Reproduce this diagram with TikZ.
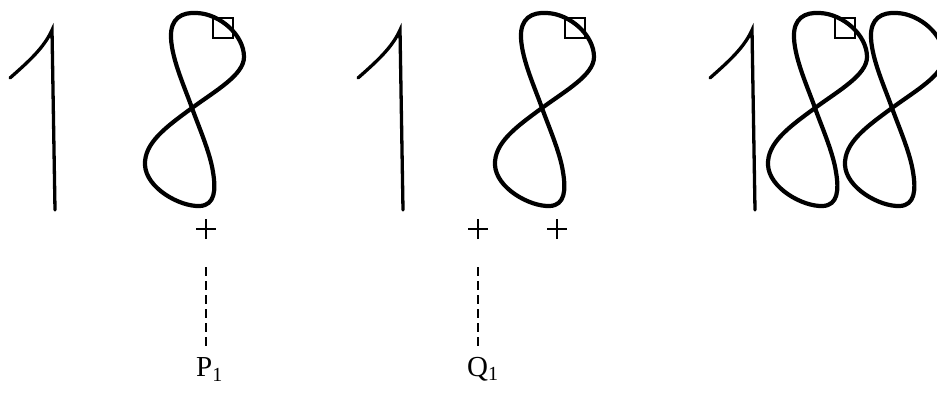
\documentclass[tikz,border=0pt]{standalone}
\usepackage{fontspec}
\setmainfont{Liberation Serif}
\begin{document}
\begin{tikzpicture}[x=1pt,y=-1pt,
  one/.style={line width=3.3pt,line cap=round},
  eight/.style={line width=4.2pt,line join=round},
  sq/.style={line width=1.8pt},
  crossmark/.style={line width=1.6pt},
  guide/.style={line width=1.7pt,dash pattern=on 9pt off 5pt},
  lbl/.style={font=\fontsize{29}{30}\selectfont,inner sep=0pt}]
\useasboundingbox (0,0) rectangle (937,392);
\clip (0,0) rectangle (937,392);
\tikzset{
  pics/onedigit/.style={code={
    \draw[one] (10,78) .. controls (28,62) and (44,48) .. (52,30) -- (55,210);
  }},
  pics/eightdigit/.style={code={
    \draw[eight] (192,108)
      .. controls (166,127) and (144,143) .. (145,165)
      .. controls (146,188) and (180,207) .. (200,206)
      .. controls (215,205) and (216,190) .. (213,172)
      .. controls (210,152) and (198,125) .. (192,108)
      .. controls (185,88) and (172,60) .. (171,38)
      .. controls (170,18) and (182,12) .. (197,13)
      .. controls (220,14) and (244,35) .. (244,57)
      .. controls (244,75) and (215,91) .. cycle;
  }},
  pics/boxmark/.style={code={
    \draw[sq] (213,18) rectangle (233,38);
  }}
}
% group 1
\pic {onedigit};
\pic {eightdigit};
\pic {boxmark};
% group 2
\pic[xshift=348pt] {onedigit};
\pic[xshift=350pt] {eightdigit};
\pic[xshift=352pt] {boxmark};
% group 3
\pic[xshift=700pt] {onedigit};
\pic[xshift=623pt] {eightdigit};
\pic[xshift=622pt] {boxmark};
\pic[xshift=700pt] {eightdigit};
% crosses
\foreach \n/\x in {c1/206,c2/478,c3/557}{
  \coordinate (\n) at (\x,229);
  \draw[crossmark] ([xshift=-10pt]\n) -- ([xshift=10pt]\n);
  \draw[crossmark] ([yshift=-10pt]\n) -- ([yshift=10pt]\n);
}
% dashed guides and labels
\coordinate (p1top) at (206,267);
\coordinate (p1bot) at (206,346);
\coordinate (q1top) at (478,267);
\coordinate (q1bot) at (478,346);
\draw[guide] (p1top) -- (p1bot);
\draw[guide] (q1top) -- (q1bot);
\node[lbl,anchor=base west] (P1) at (196,376) {P\raisebox{-0.45ex}{\fontsize{20}{20}\selectfont 1}};
\node[lbl,anchor=base west] (Q1) at (467,376) {Q\raisebox{-0.3ex}{\fontsize{20}{20}\selectfont 1}};
\end{tikzpicture}
\end{document}
